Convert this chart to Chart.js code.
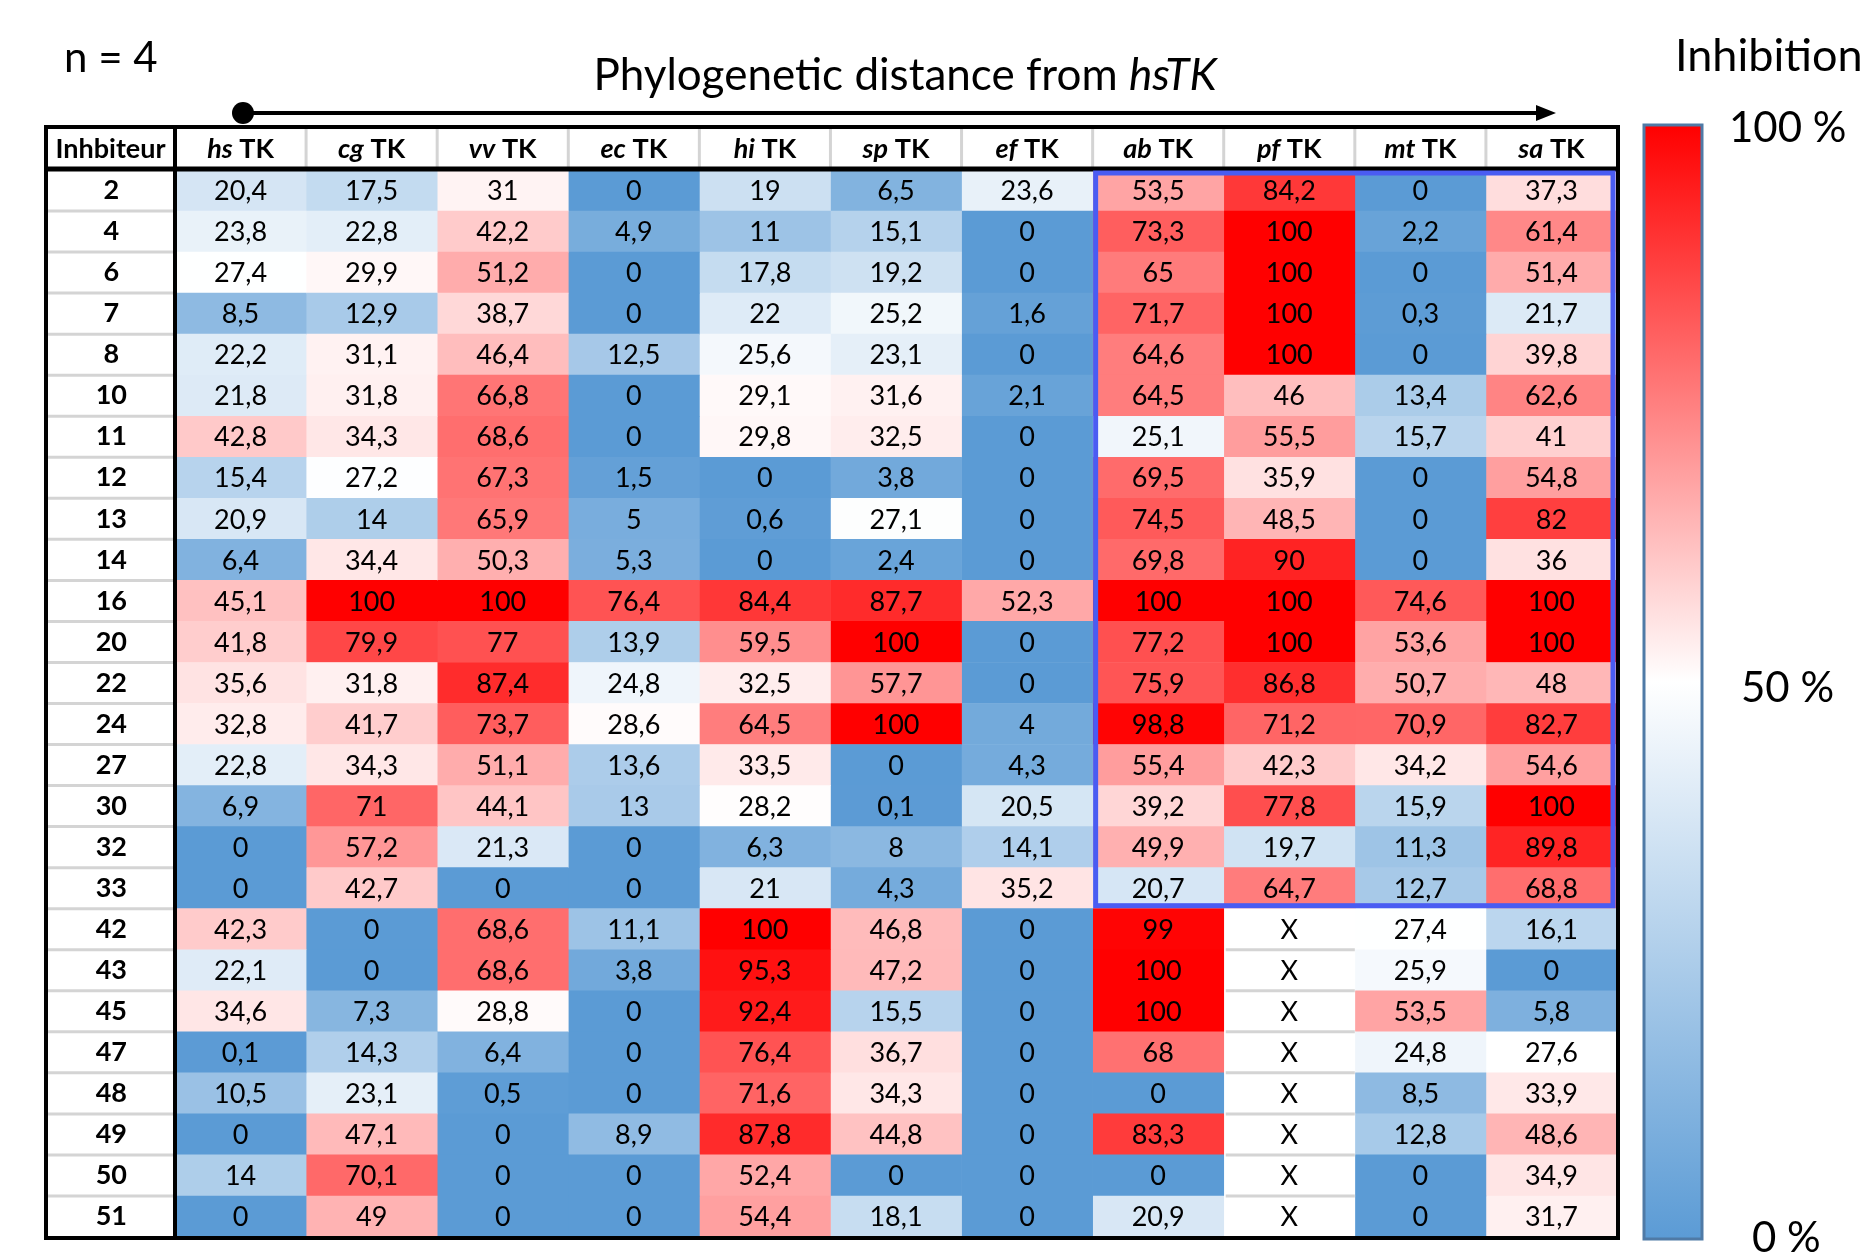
<!DOCTYPE html>
<html><head><meta charset="utf-8">
<script src="https://cdn.jsdelivr.net/npm/chart.js@4.4.1/dist/chart.umd.min.js"></script>
<style>html,body{margin:0;padding:0;background:#fff;overflow:hidden}#wrap{width:1863px;height:1252px;position:relative}</style>
</head><body><div id="wrap"><canvas id="c" width="1863" height="1252"></canvas></div>
<script>
// ---------- DATA ----------
const inhibitors = ['2','4','6','7','8','10','11','12','13','14','16','20','22','24','27','30','32','33','42','43','45','47','48','49','50','51'];
const speciesPrefix = ['hs','cg','vv','ec','hi','sp','ef','ab','pf','mt','sa'];
const headerCorner = 'Inhbiteur';
const hsTK = [20.4,23.8,27.4,8.5,22.2,21.8,42.8,15.4,20.9,6.4,45.1,41.8,35.6,32.8,22.8,6.9,0,0,42.3,22.1,34.6,0.1,10.5,0,14,0];
const cgTK = [17.5,22.8,29.9,12.9,31.1,31.8,34.3,27.2,14,34.4,100,79.9,31.8,41.7,34.3,71,57.2,42.7,0,0,7.3,14.3,23.1,47.1,70.1,49];
const vvTK = [31,42.2,51.2,38.7,46.4,66.8,68.6,67.3,65.9,50.3,100,77,87.4,73.7,51.1,44.1,21.3,0,68.6,68.6,28.8,6.4,0.5,0,0,0];
const ecTK = [0,4.9,0,0,12.5,0,0,1.5,5,5.3,76.4,13.9,24.8,28.6,13.6,13,0,0,11.1,3.8,0,0,0,8.9,0,0];
const hiTK = [19,11,17.8,22,25.6,29.1,29.8,0,0.6,0,84.4,59.5,32.5,64.5,33.5,28.2,6.3,21,100,95.3,92.4,76.4,71.6,87.8,52.4,54.4];
const spTK = [6.5,15.1,19.2,25.2,23.1,31.6,32.5,3.8,27.1,2.4,87.7,100,57.7,100,0,0.1,8,4.3,46.8,47.2,15.5,36.7,34.3,44.8,0,18.1];
const efTK = [23.6,0,0,1.6,0,2.1,0,0,0,0,52.3,0,0,4,4.3,20.5,14.1,35.2,0,0,0,0,0,0,0,0];
const abTK = [53.5,73.3,65,71.7,64.6,64.5,25.1,69.5,74.5,69.8,100,77.2,75.9,98.8,55.4,39.2,49.9,20.7,99,100,100,68,0,83.3,0,20.9];
const pfTK = [84.2,100,100,100,100,46,55.5,35.9,48.5,90,100,100,86.8,71.2,42.3,77.8,19.7,64.7,null,null,null,null,null,null,null,null];
const mtTK = [0,2.2,0,0.3,0,13.4,15.7,0,0,0,74.6,53.6,50.7,70.9,34.2,15.9,11.3,12.7,27.4,25.9,53.5,24.8,8.5,12.8,0,0];
const saTK = [37.3,61.4,51.4,21.7,39.8,62.6,41,54.8,82,36,100,100,48,82.7,54.6,100,89.8,68.8,16.1,0,5.8,27.6,33.9,48.6,34.9,31.7];
const missingMark = 'X';
const highlightCols = ['ab','sa'];      // highlighted block: columns ab..sa
const highlightRows = ['2','33'];       // rows 2..33
const titleText = 'Phylogenetic distance from ';
const titleItalic = 'hsTK';
const nText = 'n = 4';
const legendTitle = 'Inhibition';
const legendTicks = ['100 %','50 %','0 %'];

// ---------- COLOUR SCALE (3-colour, midpoint = 50th percentile) ----------
const columns = [hsTK,cgTK,vvTK,ecTK,hiTK,spTK,efTK,abTK,pfTK,mtTK,saTK];
const allVals = columns.flat().filter(v => v !== null);
function percentileInc(arr, p){const s=[...arr].sort((a,b)=>a-b);const h=(s.length-1)*p;const lo=Math.floor(h);const hi=Math.min(lo+1,s.length-1);return s[lo]+(h-lo)*(s[hi]-s[lo]);}
const vMin = Math.min(...allVals), vMax = Math.max(...allVals), vMid = percentileInc(allVals,0.5);
const cLow=[91,155,213], cMid=[255,255,255], cHigh=[255,0,0];
function mix(a,b,t){return a.map((x,i)=>Math.round(x+(b[i]-x)*t));}
function cellColor(v){
  if(v===null) return '#ffffff';
  let c;
  if(v<=vMid){c=mix(cLow,cMid,(v-vMin)/(vMid-vMin));}
  else{c=mix(cMid,cHigh,(v-vMid)/(vMax-vMid));}
  return `rgb(${c[0]},${c[1]},${c[2]})`;
}
const fmt = v => v===null ? missingMark : String(v).replace('.',',');

const FONT = 'Lato, "Open Sans", sans-serif';

// ---------- GEOMETRY (table frame) ----------
const TABLE_LEFT = 46, HEADER_TOP = 127;

const tablePlugin = {
  id:'tableDeco',
  beforeDatasetsDraw(chart){
    const ctx=chart.ctx, y=chart.scales.y, a=chart.chartArea;
    ctx.save();
    ctx.strokeStyle='#d4d4d4'; ctx.lineWidth=3;
    for(let i=1;i<inhibitors.length;i++){
      const yy=(y.getPixelForValue(i-1)+y.getPixelForValue(i))/2;
      ctx.beginPath(); ctx.moveTo(TABLE_LEFT,yy); ctx.lineTo(a.left,yy); ctx.stroke();
    }
    ctx.restore();
  },
  afterDatasetsDraw(chart){
    const ctx=chart.ctx, x=chart.scales.x, y=chart.scales.y;
    ctx.save();
    ctx.strokeStyle='#d4d4d4'; ctx.lineWidth=3;
    columns.forEach((col,c)=>{
      col.forEach((v,r)=>{
        if(v===null && r<inhibitors.length-1){
          const yy=(y.getPixelForValue(r)+y.getPixelForValue(r+1))/2;
          ctx.beginPath(); ctx.moveTo(x.getPixelForValue(c)+2,yy); ctx.lineTo(x.getPixelForValue(c+1),yy); ctx.stroke();
        }
      });
    });
    ctx.fillStyle='#000'; ctx.textAlign='center'; ctx.textBaseline='middle';
    ctx.font='400 27px '+FONT;
    chart.data.datasets.forEach((ds,di)=>{
      const meta=chart.getDatasetMeta(di);
      meta.data.forEach((el,ri)=>{
        const p=el.getProps(['x','y','base'],true);
        ctx.fillText(fmt(columns[di][ri]),(p.x+p.base)/2,p.y+1);
      });
    });
    ctx.restore();
  },
  afterDraw(chart){
    const ctx=chart.ctx, x=chart.scales.x, y=chart.scales.y, a=chart.chartArea;
    const rowH = y.getPixelForValue(1)-y.getPixelForValue(0);
    ctx.save();
    ctx.strokeStyle='#d4d4d4'; ctx.lineWidth=3;
    for(let c=1;c<speciesPrefix.length;c++){
      const xx=x.getPixelForValue(c);
      ctx.beginPath(); ctx.moveTo(xx,HEADER_TOP+2); ctx.lineTo(xx,a.top-2); ctx.stroke();
    }
    ctx.fillStyle='#000'; ctx.textBaseline='middle';
    const hy=(HEADER_TOP+a.top)/2+1;
    ctx.font='700 27px '+FONT; ctx.textAlign='center';
    ctx.fillText(headerCorner,(TABLE_LEFT+a.left)/2,hy);
    speciesPrefix.forEach((sp,c)=>{
      const cx=x.getPixelForValue(c+0.5);
      ctx.font='italic 700 27px '+FONT; const w1=ctx.measureText(sp).width;
      ctx.font='700 27px '+FONT; const w2=ctx.measureText(' TK').width;
      const sx=cx-(w1+w2)/2;
      ctx.textAlign='left';
      ctx.font='italic 700 27px '+FONT; ctx.fillText(sp,sx,hy);
      ctx.font='700 27px '+FONT; ctx.fillText(' TK',sx+w1,hy);
    });
    ctx.strokeStyle='#000'; ctx.lineWidth=4;
    ctx.strokeRect(TABLE_LEFT,HEADER_TOP,a.right-TABLE_LEFT+1,a.bottom-HEADER_TOP+1);
    ctx.beginPath(); ctx.moveTo(a.left,HEADER_TOP); ctx.lineTo(a.left,a.bottom+1); ctx.stroke();
    ctx.lineWidth=5;
    ctx.beginPath(); ctx.moveTo(TABLE_LEFT,a.top-1); ctx.lineTo(a.right+1,a.top-1); ctx.stroke();
    const c0=speciesPrefix.indexOf(highlightCols[0]), c1=speciesPrefix.indexOf(highlightCols[1]);
    const r0=inhibitors.indexOf(highlightRows[0]), r1=inhibitors.indexOf(highlightRows[1]);
    const hx0=x.getPixelForValue(c0)+3, hx1=x.getPixelForValue(c1+1)-4;
    const hy0=y.getPixelForValue(r0)-rowH/2+3, hy1=y.getPixelForValue(r1)+rowH/2-3;
    ctx.strokeStyle='#4a5cf2'; ctx.lineWidth=5;
    ctx.strokeRect(hx0,hy0,hx1-hx0,hy1-hy0);
    ctx.fillStyle='#000'; ctx.textAlign='left'; ctx.textBaseline='alphabetic';
    ctx.font='400 42px '+FONT; ctx.fillText(nText,64,72);
    ctx.font='400 44px '+FONT; const tw1=ctx.measureText(titleText).width;
    ctx.font='italic 400 44px '+FONT; const tw2=ctx.measureText(titleItalic).width;
    const tx=905-(tw1+tw2)/2;
    ctx.font='400 44px '+FONT; ctx.fillText(titleText,tx,90);
    ctx.font='italic 400 44px '+FONT; ctx.fillText(titleItalic,tx+tw1,90);
    ctx.strokeStyle='#000'; ctx.lineWidth=4;
    ctx.beginPath(); ctx.moveTo(243,113); ctx.lineTo(1540,113); ctx.stroke();
    ctx.beginPath(); ctx.moveTo(1556,113); ctx.lineTo(1536,105); ctx.lineTo(1536,121); ctx.closePath(); ctx.fillStyle='#000'; ctx.fill();
    ctx.beginPath(); ctx.arc(243,113,11,0,Math.PI*2); ctx.fill();
    const bx=1644, bw=58, by0=125, by1=1239;
    const g=ctx.createLinearGradient(0,by0,0,by1);
    g.addColorStop(0,`rgb(${cHigh})`); g.addColorStop(0.5,`rgb(${cMid})`); g.addColorStop(1,`rgb(${cLow})`);
    ctx.fillStyle=g; ctx.fillRect(bx,by0,bw,by1-by0);
    ctx.strokeStyle='#4f7aa6'; ctx.lineWidth=3; ctx.strokeRect(bx,by0,bw,by1-by0);
    ctx.fillStyle='#000'; ctx.textBaseline='middle';
    ctx.font='400 45px '+FONT; ctx.fillText(legendTitle,1675,56);
    ctx.font='400 42px '+FONT;
    ctx.fillText(legendTicks[0],1729,128);
    ctx.fillText(legendTicks[1],1741,688);
    ctx.fillText(legendTicks[2],1752,1238);
    ctx.restore();
  }
};

const datasets = columns.map((col,c)=>({
  label: speciesPrefix[c]+' TK',
  data: inhibitors.map(()=>[c,c+1]),
  backgroundColor: col.map(cellColor),
  borderWidth:0,
  barPercentage:1,
  categoryPercentage:1,
  grouped:false
}));

new Chart(document.getElementById('c'),{
  type:'bar',
  data:{labels:inhibitors,datasets},
  options:{
    indexAxis:'y',
    responsive:false,
    animation:false,
    events:[],
    layout:{autoPadding:false,padding:{left:46,top:170,right:246,bottom:15}},
    plugins:{legend:{display:false},tooltip:{enabled:false}},
    scales:{
      x:{type:'linear',min:0,max:speciesPrefix.length,display:false},
      y:{
        type:'category',
        grid:{display:false,drawTicks:false},
        border:{display:false},
        afterFit(s){s.width=129; s.paddingTop=0; s.paddingBottom=0;},
        ticks:{color:'#000',font:{family:FONT,size:27,weight:'700'},crossAlign:'center',padding:48,autoSkip:false}
      }
    }
  },
  plugins:[tablePlugin]
});
</script>
</body></html>
